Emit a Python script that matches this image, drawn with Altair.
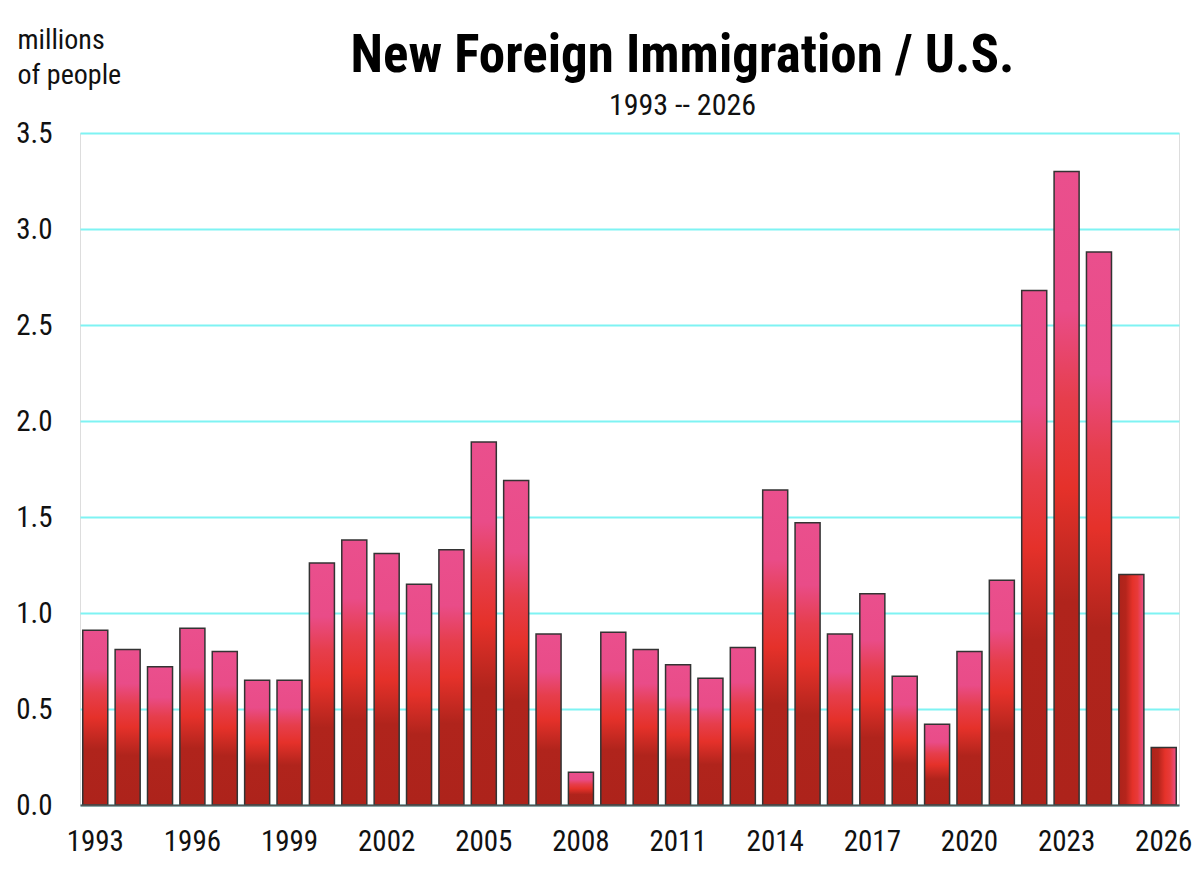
import altair as alt
import pandas as pd

years = [1993, 1994, 1995, 1996, 1997, 1998, 1999, 2000, 2001, 2002,
         2003, 2004, 2005, 2006, 2007, 2008, 2009, 2010, 2011, 2012,
         2013, 2014, 2015, 2016, 2017, 2018, 2019, 2020, 2021, 2022,
         2023, 2024, 2025, 2026]
values = [0.91, 0.81, 0.72, 0.92, 0.80, 0.65, 0.65, 1.26, 1.38, 1.31,
          1.15, 1.33, 1.89, 1.69, 0.89, 0.17, 0.90, 0.81, 0.73, 0.66,
          0.82, 1.64, 1.47, 0.89, 1.10, 0.67, 0.42, 0.80, 1.17, 2.68,
          3.30, 2.88, 1.20, 0.30]
label_years = [1993, 1996, 1999, 2002, 2005, 2008, 2011, 2014, 2017, 2020, 2023, 2026]
y_ticks = [0.0, 0.5, 1.0, 1.5, 2.0, 2.5, 3.0, 3.5]

df = pd.DataFrame({"year": years, "value": values})

FONT = "'Roboto Condensed', 'Liberation Sans', sans-serif"

vgrad = alt.Gradient(
    gradient="linear", x1=0, x2=0, y1=0, y2=1,
    stops=[
        alt.GradientStop(offset=0.0, color="#EA4F8D"),
        alt.GradientStop(offset=0.22, color="#E94C88"),
        alt.GradientStop(offset=0.36, color="#E63E4C"),
        alt.GradientStop(offset=0.50, color="#E5312A"),
        alt.GradientStop(offset=0.68, color="#B0241C"),
        alt.GradientStop(offset=1.0, color="#AD231B"),
    ],
)
hgrad = alt.Gradient(
    gradient="linear", x1=0, x2=1, y1=0, y2=0,
    stops=[
        alt.GradientStop(offset=0.0, color="#AD231B"),
        alt.GradientStop(offset=0.28, color="#B5251C"),
        alt.GradientStop(offset=0.55, color="#E5322A"),
        alt.GradientStop(offset=0.75, color="#E83A3A"),
        alt.GradientStop(offset=1.0, color="#EA4F8D"),
    ],
)

x_enc = alt.X(
    "year:O",
    scale=alt.Scale(domain=years, paddingInner=0.227, paddingOuter=0.085),
    axis=alt.Axis(
        values=label_years, title=None, labelAngle=0, ticks=False,
        labelFont=FONT, labelFontSize=29, labelColor="#111", labelPadding=22,
        domainColor="#555", domainWidth=2, grid=False, zindex=1,
    ),
)
y_enc = alt.Y(
    "value:Q",
    scale=alt.Scale(domain=[0, 3.5], nice=False),
    axis=alt.Axis(
        values=y_ticks, format=".1f", ticks=False, domain=False,
        gridColor="#7FF3F3", gridWidth=2, gridOpacity=1,
        labelFont=FONT, labelFontSize=29, labelColor="#111", labelPadding=28,
        title=["millions", "of people"], titleAngle=0, titleAlign="left",
        titleBaseline="alphabetic", titleX=-63, titleY=-85,
        titleFont=FONT, titleFontSize=28, titleFontWeight="normal",
        titleLineHeight=35, titleColor="#111",
    ),
)

base = alt.Chart(df)
bars_v = base.transform_filter("datum.year <= 2024").mark_bar(
    color=vgrad, stroke="#333", strokeWidth=1.5
).encode(x=x_enc, y=y_enc)
bars_h = base.transform_filter("datum.year >= 2025").mark_bar(
    color=hgrad, stroke="#333", strokeWidth=1.5
).encode(x=x_enc, y=y_enc)

chart = alt.layer(bars_v, bars_h).properties(
    width=1099, height=672,
    autosize=alt.AutoSizeParams(type="none"),
    padding={"left": 72, "top": 125, "right": 13, "bottom": 56},
    title=alt.TitleParams(
        text="New Foreign Immigration / U.S.", subtitle="1993 -- 2026",
        font=FONT, fontSize=53, fontWeight="bold", color="#000",
        subtitleFont=FONT, subtitleFontSize=30, subtitleColor="#111",
        subtitlePadding=8, anchor="middle", frame="group", dx=53, offset=-95,
    ),
).configure_view(stroke=None).configure(background="white")

chart.save("out.html", embed_options={"renderer": "svg", "actions": False})
